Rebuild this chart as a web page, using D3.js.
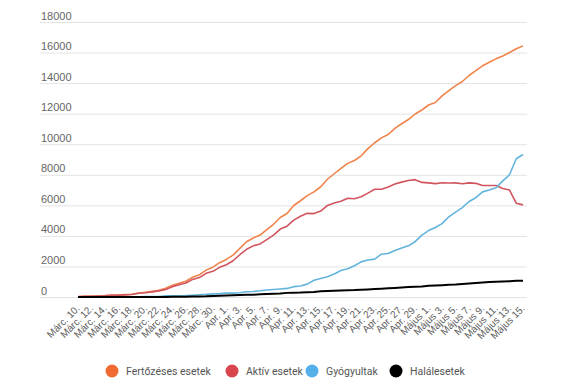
<!DOCTYPE html>
<html>
<head>
<meta charset="utf-8">
<script src="https://cdn.jsdelivr.net/npm/d3@7"></script>
<style>
  html, body { margin: 0; padding: 0; background: #fff; }
  svg { display: block; font-family: Roboto, "Noto Sans", sans-serif; }
</style>
</head>
<body>
<svg id="chart" width="575" height="387"></svg>
<script>
// Dates: Márc. 10. .. Május 15. (daily)
const days = [
  "Márc. 10.","Márc. 11.","Márc. 12.","Márc. 13.","Márc. 14.","Márc. 15.","Márc. 16.","Márc. 17.","Márc. 18.","Márc. 19.",
  "Márc. 20.","Márc. 21.","Márc. 22.","Márc. 23.","Márc. 24.","Márc. 25.","Márc. 26.","Márc. 27.","Márc. 28.","Márc. 29.",
  "Márc. 30.","Márc. 31.","Apr. 1.","Apr. 2.","Apr. 3.","Apr. 4.","Apr. 5.","Apr. 6.","Apr. 7.","Apr. 8.",
  "Apr. 9.","Apr. 10.","Apr. 11.","Apr. 12.","Apr. 13.","Apr. 14.","Apr. 15.","Apr. 16.","Apr. 17.","Apr. 18.",
  "Apr. 19.","Apr. 20.","Apr. 21.","Apr. 22.","Apr. 23.","Apr. 24.","Apr. 25.","Apr. 26.","Apr. 27.","Apr. 28.",
  "Apr. 29.","Apr. 30.","Május 1.","Május 2.","Május 3.","Május 4.","Május 5.","Május 6.","Május 7.","Május 8.",
  "Május 9.","Május 10.","Május 11.","Május 12.","Május 13.","Május 14.","Május 15."
];
const xTickLabels = [
  "Márc. 10.","Márc. 12.","Márc. 14.","Márc. 16.","Márc. 18.","Márc. 20.","Márc. 22.","Márc. 24.","Márc. 26.","Márc. 28.","Márc. 30.",
  "Apr. 1.","Apr. 3.","Apr. 5.","Apr. 7.","Apr. 9.","Apr. 11.","Apr. 13.","Apr. 15.","Apr. 17.","Apr. 19.","Apr. 21.","Apr. 23.","Apr. 25.","Apr. 27.","Apr. 29.",
  "Május 1.","Május 3.","Május 5.","Május 7.","Május 9.","Május 11.","Május 13.","Május 15."
];
const yTicks = [0, 2000, 4000, 6000, 8000, 10000, 12000, 14000, 16000, 18000];

const fertozeses = [25,45,49,70,89,123,131,158,184,260,308,367,433,576,762,906,1029,1292,1452,1760,1952,2245,
  2460,2738,3183,3613,3864,4057,4417,4761,5202,5467,5990,6300,6633,6879,7216,7707,8067,8418,8746,8936,9242,9710,
  10096,10417,10635,11036,11339,11616,11978,12240,12567,12732,13163,13512,13837,14107,14499,14811,15131,15362,
  15588,15778,16002,16247,16437];
const aktiv = [19,39,43,64,80,114,122,142,165,241,283,336,399,496,678,803,912,1151,1271,1548,1681,1943,
  2114,2371,2767,3125,3348,3475,3760,4052,4445,4635,5031,5287,5475,5458,5627,5991,6148,6267,6466,6430,6560,6800,
  7050,7050,7200,7390,7520,7630,7680,7500,7470,7420,7480,7460,7470,7410,7470,7440,7300,7300,7300,7100,7000,6140,6030];
const gyogyultak = [6,6,6,6,9,9,9,16,19,19,25,31,31,73,73,86,94,115,144,169,206,220,
  252,252,283,342,365,406,460,494,528,562,677,722,843,1095,1217,1324,1508,1730,1846,2050,2300,2420,
  2480,2800,2850,3050,3200,3350,3620,4050,4350,4550,4800,5250,5550,5850,6250,6500,6880,7000,7150,7600,8000,9050,9330];
const halalesetek = [0,0,0,0,0,0,0,0,0,0,0,0,3,7,11,17,23,26,37,43,65,82,
  94,115,133,146,151,176,197,215,229,270,282,291,315,326,372,392,411,421,434,451,478,498,
  524,545,567,591,619,650,675,693,744,757,777,803,817,850,888,917,955,977,995,1016,1038,1057,1070];

const seriesNames = ["Fertőzéses esetek", "Aktív esetek", "Gyógyultak", "Halálesetek"];
const seriesValues = [fertozeses, aktiv, gyogyultak, halalesetek];
const lineColors = ["#f0844b", "#d0555f", "#62b4dd", "#000000"];
const dotColors = ["#f26a33", "#d9454f", "#55b0ea", "#000000"];

const svg = d3.select("#chart");

const x = d3.scalePoint().domain(days).range([78, 523]);
const y = d3.scaleLinear().domain([0, 18000]).range([297, 22]);

// Y axis with gridlines
const gy = svg.append("g")
  .attr("transform", "translate(40,0)")
  .call(d3.axisLeft(y).tickValues(yTicks).tickSize(-487).tickFormat(d3.format("d")));
gy.select(".domain").remove();
gy.selectAll(".tick line").attr("stroke", "#e3e3e3").attr("stroke-width", 1);
gy.selectAll(".tick text")
  .attr("x", 1).attr("dy", -3)
  .attr("text-anchor", "start")
  .attr("fill", "#666").style("font-size", "11px");

// X axis labels
const gx = svg.append("g")
  .attr("transform", "translate(0,297)")
  .call(d3.axisBottom(x).tickValues(xTickLabels).tickSize(0));
gx.select(".domain").remove();
gx.selectAll(".tick text")
  .attr("text-anchor", "end")
  .attr("y", 0).attr("dy", 0)
  .attr("transform", "translate(2,12) rotate(-45)")
  .attr("fill", "#5e5e5e").style("font-size", "10px");

// Lines
const line = d3.line()
  .x((d, i) => x(days[i]))
  .y(d => y(d));

seriesValues.forEach((vals, k) => {
  svg.append("path")
    .datum(vals)
    .attr("fill", "none")
    .attr("stroke", lineColors[k])
    .attr("stroke-width", k === 3 ? 2 : 1.6)
    .attr("stroke-linejoin", "round")
    .attr("d", line);
});

// Legend
const legX = [112, 232, 312, 396];
const lg = svg.append("g");
seriesNames.forEach((name, k) => {
  lg.append("circle").attr("cx", legX[k]).attr("cy", 371).attr("r", 6.5).attr("fill", dotColors[k]);
  lg.append("text").attr("x", legX[k] + 14).attr("y", 371).attr("dy", "0.35em")
    .attr("fill", "#555").style("font-size", "10.5px").text(name);
});
</script>
</body>
</html>
